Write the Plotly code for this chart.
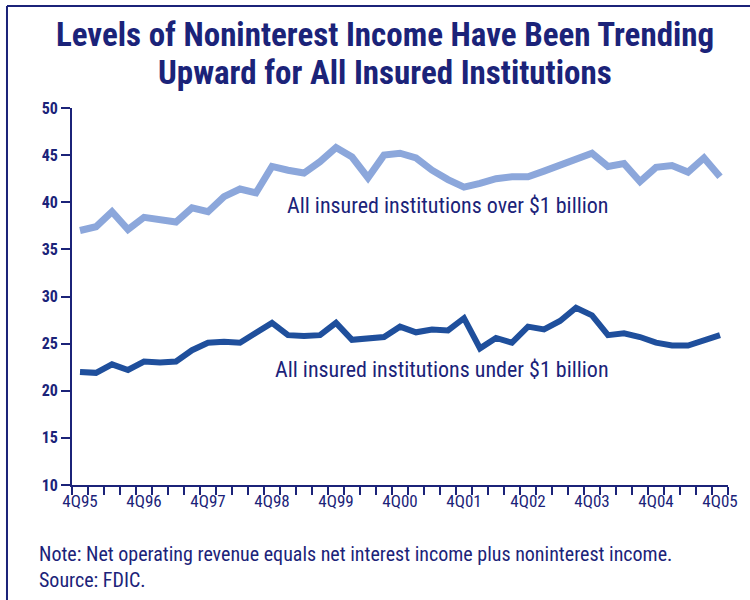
import plotly.graph_objects as go

quarters = list(range(41))
tick_positions = [0, 4, 8, 12, 16, 20, 24, 28, 32, 36, 40]
tick_labels = ["4Q95", "4Q96", "4Q97", "4Q98", "4Q99", "4Q00", "4Q01", "4Q02", "4Q03", "4Q04", "4Q05"]

over_1b = [37.0, 37.4, 39.0, 37.1, 38.4, 38.1, 37.9, 39.4, 39.0, 40.6,
           41.4, 41.0, 43.8, 43.4, 43.1, 44.3, 45.8, 44.8, 42.6, 45.0,
           45.2, 44.7, 43.4, 42.4, 41.6, 42.0, 42.5, 42.7, 42.7, 43.3,
           44.0, 44.7, 45.2, 43.8, 44.1, 42.2, 43.7, 43.9, 43.2, 44.7,
           42.7]
under_1b = [22.0, 21.9, 22.8, 22.2, 23.1, 23.0, 23.1, 24.3, 25.1, 25.2,
            25.1, 26.2, 27.2, 25.9, 25.8, 25.9, 27.2, 25.4, 25.5, 25.7,
            26.8, 26.2, 26.5, 26.4, 27.7, 24.5, 25.6, 25.1, 26.8, 26.5,
            27.4, 28.8, 28.0, 25.9, 26.1, 25.7, 25.1, 24.8, 24.8, 25.4,
            25.9]

navy = "#1b2379"
light = "#8ca7db"
dark = "#1f4f9c"
font = "Roboto Condensed, Open Sans Condensed, Roboto, sans-serif"

fig = go.Figure()
fig.add_trace(go.Scatter(x=quarters, y=over_1b, mode="lines",
                         line=dict(color=light, width=7), hoverinfo="skip"))
fig.add_trace(go.Scatter(x=quarters, y=under_1b, mode="lines",
                         line=dict(color=dark, width=6), hoverinfo="skip"))

fig.add_annotation(x=22.97, y=39.7, text="All insured institutions over $1 billion",
                   showarrow=False, font=dict(family=font, size=22, color=navy))
fig.add_annotation(x=22.6, y=22.3, text="All insured institutions under $1 billion",
                   showarrow=False, font=dict(family=font, size=22, color=navy))

# title lines
fig.add_annotation(xref="paper", yref="paper", x=0.477, y=1.194, xanchor="center", yanchor="middle",
                   text="<b>Levels of Noninterest Income Have Been Trending</b>",
                   showarrow=False, font=dict(family=font, size=33, color=navy))
fig.add_annotation(xref="paper", yref="paper", x=0.477, y=1.093, xanchor="center", yanchor="middle",
                   text="<b>Upward for All Insured Institutions</b>",
                   showarrow=False, font=dict(family=font, size=33, color=navy))

# notes
fig.add_annotation(xref="paper", yref="paper", x=-0.0534, y=-0.183, xanchor="left", yanchor="middle",
                   text="Note: Net operating revenue equals net interest income plus noninterest income.",
                   showarrow=False, font=dict(family=font, size=20, color=navy))
fig.add_annotation(xref="paper", yref="paper", x=-0.0534, y=-0.252, xanchor="left", yanchor="middle",
                   text="Source: FDIC.",
                   showarrow=False, font=dict(family=font, size=20, color=navy))

# frame (top and left border)
fig.add_shape(type="line", xref="paper", yref="paper", x0=-0.0991, x1=1.04, y0=1.2706, y1=1.2706,
              line=dict(color=navy, width=2))
fig.add_shape(type="line", xref="paper", yref="paper", x0=-0.0991, x1=-0.0991, y0=1.2706, y1=-0.31,
              line=dict(color=navy, width=2))

fig.update_layout(
    width=750, height=600,
    margin=dict(l=72, r=22, t=108, b=115),
    paper_bgcolor="white", plot_bgcolor="white",
    showlegend=False,
    xaxis=dict(range=[-0.5, 40.5], tickmode="array", tickvals=tick_positions, ticktext=tick_labels,
               ticks="", showgrid=False, zeroline=False, showline=True, linecolor=navy, linewidth=2,
               tickfont=dict(family=font, size=17, color=navy),
               minor=dict(tick0=-0.5, dtick=1, ticks="outside", ticklen=8, tickcolor=navy,
                          tickwidth=2, showgrid=False)),
    yaxis=dict(range=[10, 50], tickmode="array", tickvals=[10, 15, 20, 25, 30, 35, 40, 45, 50],
               ticks="outside", ticklen=9, tickcolor=navy, tickwidth=2,
               showgrid=False, zeroline=False, showline=True, linecolor=navy, linewidth=2,
               tickfont=dict(family=font, size=16, color=navy, weight="bold")),
)

fig.write_html("out.html")
